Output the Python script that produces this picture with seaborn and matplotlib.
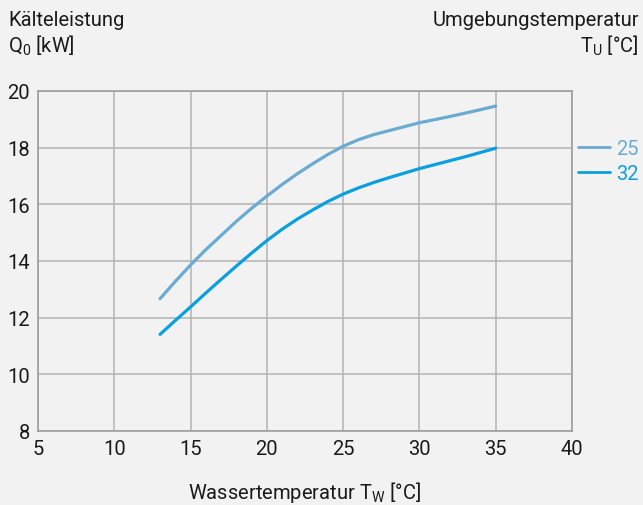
import numpy as np
import pandas as pd
import matplotlib
matplotlib.use("Agg")
import matplotlib.pyplot as plt
import seaborn as sns

# values
wasser_temp = list(range(13, 36))
q_25 = [12.67, 13.28, 13.86, 14.40, 14.90, 15.40, 15.86, 16.29, 16.70, 17.08,
        17.43, 17.76, 18.05, 18.28, 18.46, 18.60, 18.74, 18.88, 18.99, 19.10,
        19.22, 19.34, 19.47]
q_32 = [11.41, 11.90, 12.38, 12.87, 13.35, 13.82, 14.28, 14.72, 15.12, 15.48,
        15.80, 16.10, 16.36, 16.58, 16.77, 16.94, 17.10, 17.26, 17.40, 17.54,
        17.68, 17.83, 17.98]
series_labels = ["25", "32"]
x_ticks = [5, 10, 15, 20, 25, 30, 35, 40]
y_ticks = [8, 10, 12, 14, 16, 18, 20]

sns.set_style("whitegrid")
font = ["Roboto", "DejaVu Sans"]
plt.rcParams["font.family"] = font
plt.rcParams["mathtext.fontset"] = "custom"
plt.rcParams["mathtext.rm"] = "Roboto"
plt.rcParams["mathtext.it"] = "Roboto"

bg = "#f2f2f2"
colors = {"25": "#6aaad3", "32": "#0a9fe0"}
text_col = "#1a1a1a"
fs = 14.5

df = pd.DataFrame({
    "Tw": wasser_temp * 2,
    "Q0": q_25 + q_32,
    "Tu": [series_labels[0]] * len(wasser_temp) + [series_labels[1]] * len(wasser_temp),
})

fig = plt.figure(figsize=(6.43, 5.06), dpi=100, facecolor=bg)
ax = fig.add_axes([38 / 643, 1 - 432 / 506, (572 - 38) / 643, (432 - 92) / 506])
ax.set_facecolor(bg)

sns.lineplot(data=df, x="Tw", y="Q0", hue="Tu", palette=colors, linewidth=2.3,
             ax=ax, legend=False)

ax.set_xlim(5, 40)
ax.set_ylim(8, 20)
ax.set_xticks(x_ticks)
ax.set_yticks(y_ticks)
ax.grid(True, color="#b3b3b3", linewidth=1.1)
for s in ax.spines.values():
    s.set_color("#999999")
    s.set_linewidth(1.1)
ax.tick_params(length=0, labelsize=fs, colors=text_col, pad=6)
ax.set_xlabel("")
ax.set_ylabel("")

# labels
fig.text(8 / 643, 1 - 20 / 506, "Kälteleistung", fontsize=fs, color=text_col, va="center")
fig.text(8 / 643, 1 - 46 / 506, r"Q$_\mathregular{0}$ [kW]", fontsize=fs, color=text_col, va="center")
fig.text(639 / 643, 1 - 20 / 506, "Umgebungstemperatur", fontsize=fs, color=text_col,
         va="center", ha="right")
fig.text(639 / 643, 1 - 46 / 506, r"T$_\mathregular{U}$ [°C]", fontsize=fs, color=text_col,
         va="center", ha="right")
fig.text(305 / 643, 1 - 493 / 506, r"Wassertemperatur T$_\mathregular{W}$ [°C]", fontsize=fs,
         color=text_col, va="center", ha="center")

# legend on the right
handles = [plt.Line2D([], [], color=colors[k], linewidth=2) for k in series_labels]
leg = ax.legend(handles, series_labels, loc="upper left", bbox_to_anchor=(1.011, 0.86),
                frameon=False, fontsize=fs, handlelength=1.6, handletextpad=0.3,
                labelspacing=0.3, borderaxespad=0.0, borderpad=0.0)
for t, k in zip(leg.get_texts(), series_labels):
    t.set_color(colors[k])

fig.savefig("out.png", dpi=100, facecolor=bg)
